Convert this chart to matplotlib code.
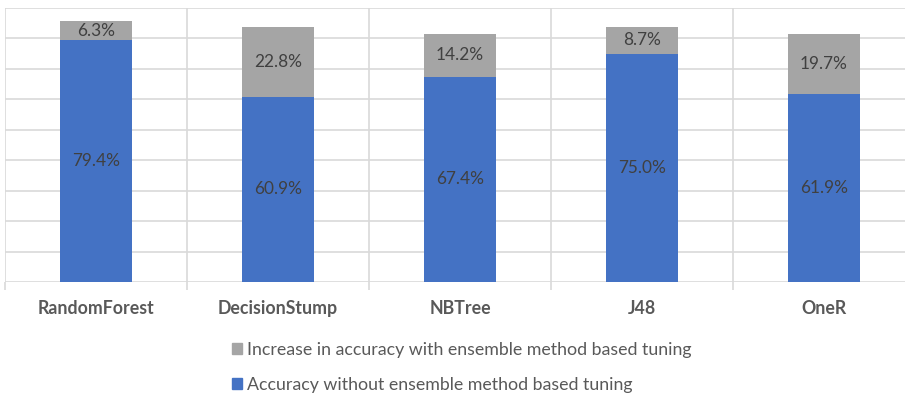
import matplotlib
matplotlib.use("Agg")
import matplotlib.pyplot as plt
from matplotlib.patches import Patch

plt.rcParams["font.family"] = ["Lato", "DejaVu Sans"]

classifiers = ["RandomForest", "DecisionStump", "NBTree", "J48", "OneR"]
acc_without = [79.4, 60.9, 67.4, 75.0, 61.9]
acc_increase = [6.3, 22.8, 14.2, 8.7, 19.7]

blue = "#4472C4"
grey = "#A5A5A5"
grid_col = "#D9D9D9"
text_col = "#595959"
label_col = "#404040"

fig = plt.figure(figsize=(9.05, 3.93), dpi=100)
# plot area runs slightly past the right edge, as in the source image
ax = fig.add_axes([5 / 905, 111 / 393, 910 / 905, 274 / 393])

x = list(range(len(classifiers)))
ax.bar(x, acc_without, width=0.4, color=blue, zorder=3)
ax.bar(x, acc_increase, width=0.4, bottom=acc_without, color=grey, zorder=3)

for i in x:
    ax.text(i, acc_without[i] / 2, f"{acc_without[i]:.1f}%", ha="center", va="center",
            fontsize=12.4, color=label_col, zorder=4)
    ax.text(i, acc_without[i] + acc_increase[i] / 2, f"{acc_increase[i]:.1f}%", ha="center",
            va="center", fontsize=12.4, color=label_col, zorder=4)

ax.set_xlim(-0.5, len(classifiers) - 0.5)
ax.set_ylim(0, 90)
ax.set_yticks(range(0, 91, 10))
ax.yaxis.set_tick_params(length=0, labelleft=False)
ax.grid(axis="y", color=grid_col, linewidth=1.2, zorder=0)

ax.set_xticks(x)
ax.set_xticklabels(classifiers, fontweight="bold", fontsize=12.8, color=text_col)
ax.set_xticks([i - 0.5 for i in range(len(classifiers) + 1)], minor=True)
ax.tick_params(axis="x", which="major", length=0, pad=13)
ax.tick_params(axis="x", which="minor", length=6, color=grid_col, width=1.2)
ax.grid(axis="x", which="minor", color=grid_col, linewidth=1.2, zorder=0)

for s in ax.spines.values():
    s.set_visible(False)

handles = [Patch(color=grey, label="Increase in accuracy with ensemble method based tuning"),
           Patch(color=blue, label="Accuracy without ensemble method based tuning")]
leg = fig.legend(handles=handles, loc="upper left", bbox_to_anchor=(232 / 905, 1 - 342 / 393),
                 frameon=False, fontsize=12.8, handlelength=0.55, handleheight=0.55,
                 handletextpad=0.3, labelspacing=1.05, borderpad=0, borderaxespad=0)
for t in leg.get_texts():
    t.set_color(text_col)

fig.savefig("out.png", dpi=100)
